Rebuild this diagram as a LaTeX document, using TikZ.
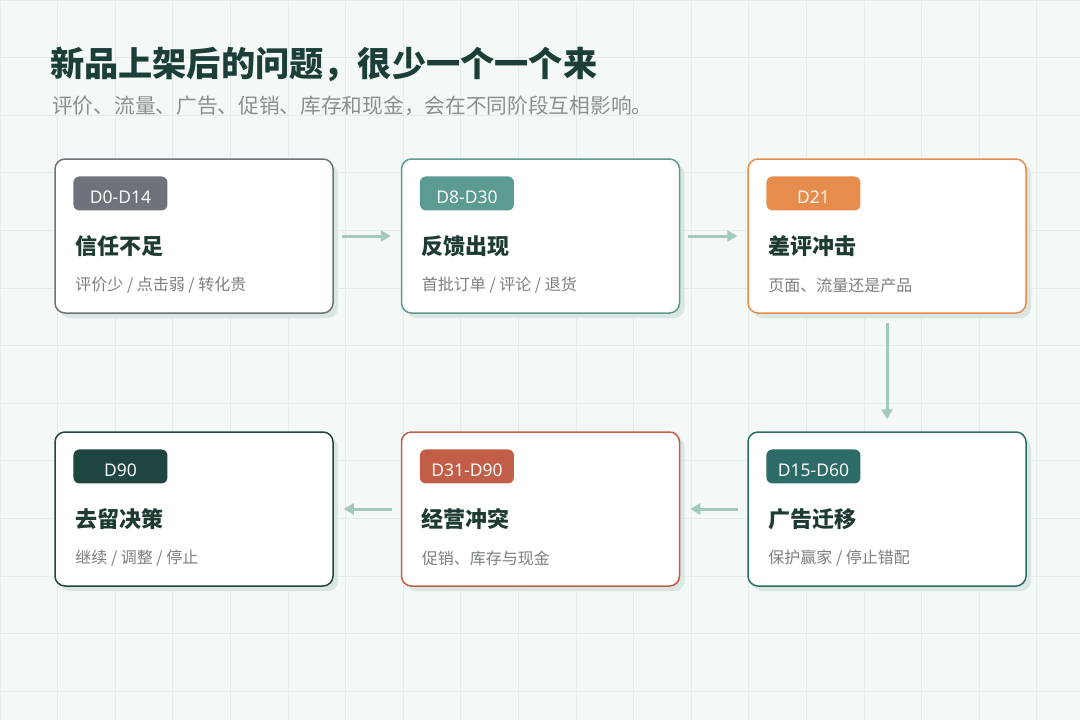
\documentclass[tikz,border=0pt]{standalone}
\usepackage{fontspec}
\setmainfont{Noto Sans CJK SC}
\newfontfamily\tagfont{Noto Sans}
\usepackage{tikz}
\usetikzlibrary{positioning, arrows.meta, shadows}

\definecolor{bgc}{HTML}{F4F9F7}
\definecolor{gridc}{HTML}{E3EDEA}
\definecolor{headc}{HTML}{1B3F38}
\definecolor{subc}{HTML}{8A9090}
\definecolor{titc}{HTML}{1E3A34}
\definecolor{txtc}{HTML}{7A7F80}
\definecolor{arrc}{HTML}{A3C9BF}
\definecolor{shadc}{HTML}{D9E6E2}
\definecolor{grayc}{HTML}{6E737B}
\definecolor{tealc}{HTML}{5B9B91}
\definecolor{orangec}{HTML}{E68C4C}
\definecolor{deepc}{HTML}{2C6B66}
\definecolor{rustc}{HTML}{C25E48}
\definecolor{darkc}{HTML}{1F4540}

\tikzset{
  card/.style={draw=#1, line width=1.5pt, fill=white, rounded corners=10pt,
    minimum width=278pt, minimum height=154pt, inner sep=0pt,
    drop shadow={shadow xshift=5pt, shadow yshift=-5pt, fill=shadc, opacity=1}},
  badge/.style={fill=#1, rounded corners=6pt, minimum width=94pt, minimum height=34pt,
    inner sep=0pt, text height=20pt, text depth=0pt, text=white!94!gray,
    font=\tagfont\fontsize{17.5}{21}\selectfont},
  cardtitle/.style={anchor=west, inner sep=0pt, text=titc, font=\fontsize{22}{26}\selectfont\bfseries},
  cardtext/.style={anchor=west, inner sep=0pt, text=txtc, font=\fontsize{16}{19}\selectfont},
  flow/.style={draw=arrc, line width=3pt, -{Triangle[length=10pt,width=11pt]}}
}

\begin{document}
\begin{tikzpicture}[x=1pt, y=-1pt]
  % background and grid
  \useasboundingbox (0,0) rectangle (1080,720);
  \fill[bgc] (0,0) rectangle (1080,720);
  \foreach \gx in {0,57.6,...,1080} \draw[gridc, line width=1pt] (\gx,0) -- (\gx,720);
  \foreach \gy in {0,57.6,...,720} \draw[gridc, line width=1pt] (0,\gy) -- (1080,\gy);

  % heading
  \node[anchor=west, inner sep=0pt, text=headc, font=\fontsize{34.2}{40}\selectfont\bfseries] (head) at (50,64) {新品上架后的问题，很少一个一个来};
  \node[anchor=west, inner sep=0pt, text=subc, font=\fontsize{20.7}{25}\selectfont] (lead) at (52,106) {评价、流量、广告、促销、库存和现金，会在不同阶段互相影响。};

  % first row
  \node[card=grayc] (trust) at (194,236) {};
  \node[badge=grayc, below right=18pt and 19pt of trust.north west, anchor=north west] (trustb) {D0-D14};
  \node[cardtitle] (trustt) at ([xshift=21pt, yshift=-88pt]trust.north west) {信任不足};
  \node[cardtext] (trusts) at ([xshift=21pt, yshift=-127pt]trust.north west) {评价少 / 点击弱 / 转化贵};

  \node[card=tealc] (feedback) at (540.5,236) {};
  \node[badge=tealc, below right=18pt and 19pt of feedback.north west, anchor=north west] (feedbackb) {D8-D30};
  \node[cardtitle] (feedbackt) at ([xshift=21pt, yshift=-88pt]feedback.north west) {反馈出现};
  \node[cardtext] (feedbacks) at ([xshift=21pt, yshift=-127pt]feedback.north west) {首批订单 / 评论 / 退货};

  \node[card=orangec] (review) at (887,236) {};
  \node[badge=orangec, below right=18pt and 19pt of review.north west, anchor=north west] (reviewb) {D21};
  \node[cardtitle] (reviewt) at ([xshift=21pt, yshift=-88pt]review.north west) {差评冲击};
  \node[cardtext] (reviews) at ([xshift=21pt, yshift=-127pt]review.north west) {页面、流量还是产品};

  % second row
  \node[card=deepc] (ads) at (887,509) {};
  \node[badge=deepc, below right=18pt and 19pt of ads.north west, anchor=north west] (adsb) {D15-D60};
  \node[cardtitle] (adst) at ([xshift=21pt, yshift=-88pt]ads.north west) {广告迁移};
  \node[cardtext] (adss) at ([xshift=21pt, yshift=-127pt]ads.north west) {保护赢家 / 停止错配};

  \node[card=rustc] (conflict) at (540.5,509) {};
  \node[badge=rustc, below right=18pt and 19pt of conflict.north west, anchor=north west] (conflictb) {D31-D90};
  \node[cardtitle] (conflictt) at ([xshift=21pt, yshift=-88pt]conflict.north west) {经营冲突};
  \node[cardtext] (conflicts) at ([xshift=21pt, yshift=-127pt]conflict.north west) {促销、库存与现金};

  \node[card=darkc] (decision) at (194,509) {};
  \node[badge=darkc, below right=18pt and 19pt of decision.north west, anchor=north west] (decisionb) {D90};
  \node[cardtitle] (decisiont) at ([xshift=21pt, yshift=-88pt]decision.north west) {去留决策};
  \node[cardtext] (decisions) at ([xshift=21pt, yshift=-127pt]decision.north west) {继续 / 调整 / 停止};

  % connectors
  \draw[flow, shorten <=8pt, shorten >=10pt] (trust) -- (feedback);
  \draw[flow, shorten <=8pt, shorten >=10pt] (feedback) -- (review);
  \draw[flow, shorten <=9pt, shorten >=12pt] (review) -- (ads);
  \draw[flow, shorten <=9pt, shorten >=10pt] (ads) -- (conflict);
  \draw[flow, shorten <=9pt, shorten >=10pt] (conflict) -- (decision);
\end{tikzpicture}
\end{document}
